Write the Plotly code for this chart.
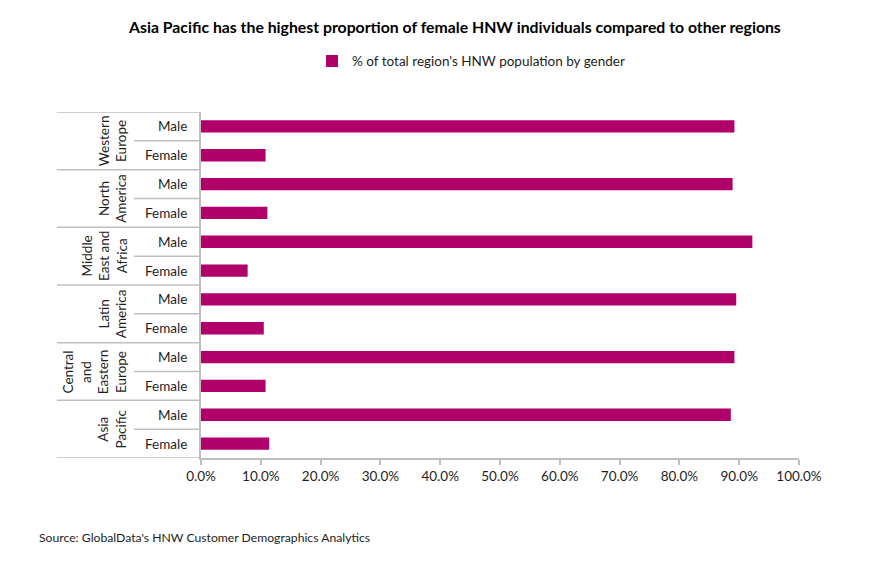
import plotly.graph_objects as go

# ---- data ----
regions = ["Western<br>Europe", "North<br>America", "Middle<br>East and<br>Africa",
           "Latin<br>America", "Central<br>and<br>Eastern<br>Europe", "Asia<br>Pacific"]
genders = ["Male", "Female"]
male_pct = [89.2, 88.9, 92.2, 89.5, 89.2, 88.6]
female_pct = [10.8, 11.1, 7.8, 10.5, 10.8, 11.4]
x_ticks = [0, 10, 20, 30, 40, 50, 60, 70, 80, 90, 100]
series_name = "% of total region's HNW population by gender"
title_text = "Asia Pacific has the highest proportion of female HNW individuals compared to other regions"
source_text = "Source: GlobalData's HNW Customer Demographics Analytics"

BAR = "#B0006A"
GRID = "#BFBFBF"
TXT = "#1e1e1e"
FONT = "Lato"
FS = 13.5

# rows top to bottom: region / gender
row_vals, row_labels = [], []
for m, f in zip(male_pct, female_pct):
    row_vals += [m / 100, f / 100]
    row_labels += genders
row_idx = list(range(len(row_vals)))

fig = go.Figure()
fig.add_trace(go.Bar(
    x=row_vals, y=row_idx, orientation="h", name=series_name,
    marker=dict(color=BAR, line=dict(width=0)), width=0.43, showlegend=True,
))

annotations = []
shapes = []
n = len(row_idx)
# gender labels
for i, lab in zip(row_idx, row_labels):
    annotations.append(dict(x=-0.020, xref="paper", y=i, yref="y", text=lab,
                            showarrow=False, xanchor="right", yanchor="middle",
                            font=dict(family=FONT, size=FS, color=TXT)))
# region labels and separators
for r, reg in enumerate(regions):
    top = 2 * r - 0.5
    mid = 2 * r + 0.5
    annotations.append(dict(x=-0.1165, xref="paper", y=mid, yref="y", text=reg,
                            showarrow=False, textangle=-90, xanchor="right",
                            yanchor="middle", align="center",
                            font=dict(family=FONT, size=FS, color=TXT)))
    shapes.append(dict(type="line", xref="paper", yref="y", x0=-0.241, x1=0,
                       y0=top, y1=top, line=dict(color=GRID, width=1.5)))
    shapes.append(dict(type="line", xref="paper", yref="y", x0=-0.112, x1=0,
                       y0=mid, y1=mid, line=dict(color=GRID, width=1.5)))
shapes.append(dict(type="line", xref="paper", yref="y", x0=-0.241, x1=0,
                   y0=n - 0.5, y1=n - 0.5, line=dict(color=GRID, width=1.5)))

annotations.append(dict(x=-0.274, xref="paper", y=-0.231, yref="paper",
                        text=source_text, showarrow=False, xanchor="left",
                        yanchor="middle",
                        font=dict(family=FONT, size=12.2, color=TXT)))

fig.update_layout(
    width=885, height=576,
    margin=dict(l=193, r=94, t=104, b=126),
    paper_bgcolor="white", plot_bgcolor="white",
    title=dict(text="<b>" + title_text + "</b>", x=0.505, xref="container",
               xanchor="center", y=1 - 19 / 576, yref="container", yanchor="middle",
               font=dict(family=FONT, size=15.8, color="black")),
    legend=dict(orientation="h", x=0.1856, xanchor="left", y=1.147, yanchor="middle",
                font=dict(family=FONT, size=FS, color=TXT), bgcolor="rgba(0,0,0,0)",
                itemwidth=30),
    xaxis=dict(range=[0, 1], tickvals=[t / 100 for t in x_ticks], tickformat=".1%",
               showgrid=False, zeroline=False, showline=True, linecolor=GRID, linewidth=1.5,
               ticks="outside", ticklen=5, tickcolor=GRID, tickwidth=1.5,
               tickfont=dict(family=FONT, size=FS, color=TXT), fixedrange=True),
    yaxis=dict(range=[n - 0.5, -0.5], showticklabels=False, showgrid=False,
               zeroline=False, showline=True, linecolor=GRID, linewidth=1.5,
               ticks="", fixedrange=True),
    annotations=annotations, shapes=shapes, bargap=0.5,
)

fig.write_html("out.html")
